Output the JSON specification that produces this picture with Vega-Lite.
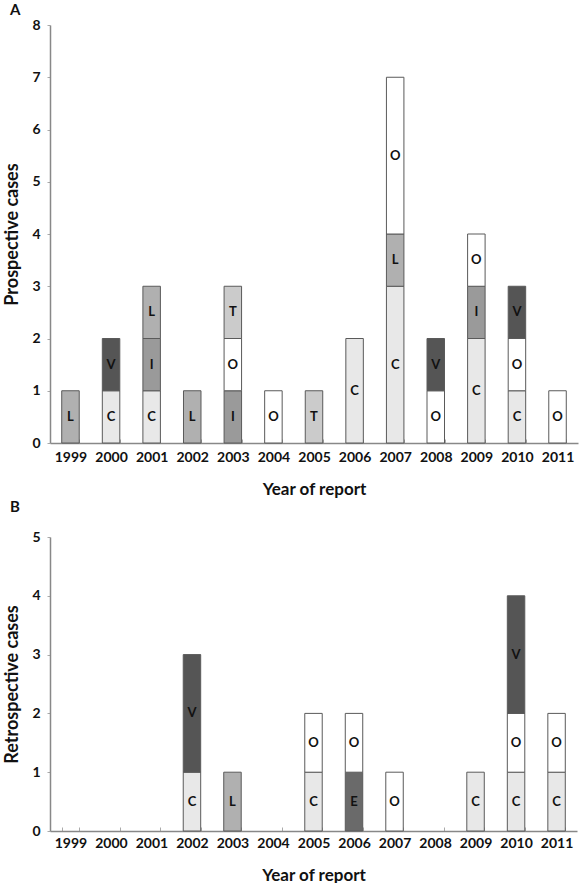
{
  "$schema": "https://vega.github.io/schema/vega-lite/v6.json",
  "padding": {"left": 3, "top": 3, "right": 4, "bottom": 0},
  "spacing": 3,
  "background": "white",
  "config": {
    "view": {"stroke": null},
    "font": "Lato",
    "axis": {
      "labelFont": "Lato", "labelFontWeight": "bold", "labelFontSize": 14, "labelColor": "#111",
      "titleFont": "Lato", "titleFontWeight": "bold", "titleFontSize": 17, "titleColor": "#111",
      "domainColor": "#888", "domainWidth": 1.5, "tickColor": "#aaa", "grid": false
    },
    "title": {"font": "Lato", "fontWeight": "bold", "fontSize": 15, "anchor": "start", "frame": "bounds", "color": "#111", "dx": 6}
  },
  "datasets": {
    "prospective": [
      {"year": "1999", "cat": "L", "n": 1},
      {"year": "2000", "cat": "C", "n": 1}, {"year": "2000", "cat": "V", "n": 1},
      {"year": "2001", "cat": "C", "n": 1}, {"year": "2001", "cat": "I", "n": 1}, {"year": "2001", "cat": "L", "n": 1},
      {"year": "2002", "cat": "L", "n": 1},
      {"year": "2003", "cat": "I", "n": 1}, {"year": "2003", "cat": "O", "n": 1}, {"year": "2003", "cat": "T", "n": 1},
      {"year": "2004", "cat": "O", "n": 1},
      {"year": "2005", "cat": "T", "n": 1},
      {"year": "2006", "cat": "C", "n": 2},
      {"year": "2007", "cat": "C", "n": 3}, {"year": "2007", "cat": "L", "n": 1}, {"year": "2007", "cat": "O", "n": 3},
      {"year": "2008", "cat": "O", "n": 1}, {"year": "2008", "cat": "V", "n": 1},
      {"year": "2009", "cat": "C", "n": 2}, {"year": "2009", "cat": "I", "n": 1}, {"year": "2009", "cat": "O", "n": 1},
      {"year": "2010", "cat": "C", "n": 1}, {"year": "2010", "cat": "O", "n": 1}, {"year": "2010", "cat": "V", "n": 1},
      {"year": "2011", "cat": "O", "n": 1}
    ],
    "retrospective": [
      {"year": "2002", "cat": "C", "n": 1}, {"year": "2002", "cat": "V", "n": 2},
      {"year": "2003", "cat": "L", "n": 1},
      {"year": "2005", "cat": "C", "n": 1}, {"year": "2005", "cat": "O", "n": 1},
      {"year": "2006", "cat": "E", "n": 1}, {"year": "2006", "cat": "O", "n": 1},
      {"year": "2007", "cat": "O", "n": 1},
      {"year": "2009", "cat": "C", "n": 1},
      {"year": "2010", "cat": "C", "n": 1}, {"year": "2010", "cat": "O", "n": 1}, {"year": "2010", "cat": "V", "n": 2},
      {"year": "2011", "cat": "C", "n": 1}, {"year": "2011", "cat": "O", "n": 1}
    ]
  },
  "vconcat": [
    {
      "title": {"text": "A", "offset": 0},
      "width": 528,
      "height": 418,
      "data": {"name": "prospective"},
      "transform": [
        {"stack": "n", "groupby": ["year"], "sort": [{"field": "cat"}], "as": ["y0", "y1"]},
        {"calculate": "(datum.y0 + datum.y1) / 2", "as": "mid"}
      ],
      "encoding": {
        "x": {
          "field": "year", "type": "ordinal", "title": "Year of report",
          "scale": {"domain": ["1999","2000","2001","2002","2003","2004","2005","2006","2007","2008","2009","2010","2011"], "paddingInner": 0.569, "paddingOuter": 0.289},
          "axis": {"labelAngle": 0, "tickBand": "extent", "tickSize": -4, "labelPadding": 11, "titlePadding": 17}
        }
      },
      "layer": [
        {
          "mark": {"type": "bar", "stroke": "#5a5a5a", "strokeWidth": 1},
          "encoding": {
            "y": {"field": "y0", "type": "quantitative", "title": "Prospective cases", "scale": {"domain": [0, 8]},
                  "axis": {"values": [0,1,2,3,4,5,6,7,8], "format": "d", "tickSize": 3, "labelPadding": 7, "titlePadding": 10, "titleFontSize": 18}},
            "y2": {"field": "y1"},
            "fill": {"field": "cat", "type": "nominal", "legend": null,
                     "scale": {"domain": ["C","E","I","L","O","T","V"], "range": ["#e8e8e8","#6a6a6a","#9a9a9a","#b0b0b0","#ffffff","#cbcbcb","#555555"]}}
          }
        },
        {
          "mark": {"type": "text", "font": "Lato", "fontWeight": "bold", "fontSize": 13, "color": "#111", "baseline": "middle"},
          "encoding": {
            "y": {"field": "mid", "type": "quantitative"},
            "text": {"field": "cat"}
          }
        }
      ]
    },
    {
      "title": {"text": "B", "offset": 15},
      "width": 527,
      "height": 294,
      "data": {"name": "retrospective"},
      "transform": [
        {"stack": "n", "groupby": ["year"], "sort": [{"field": "cat"}], "as": ["y0", "y1"]},
        {"calculate": "(datum.y0 + datum.y1) / 2", "as": "mid"}
      ],
      "encoding": {
        "x": {
          "field": "year", "type": "ordinal", "title": "Year of report",
          "scale": {"domain": ["1999","2000","2001","2002","2003","2004","2005","2006","2007","2008","2009","2010","2011"], "paddingInner": 0.569, "paddingOuter": 0.289},
          "axis": {"labelAngle": 0, "tickBand": "extent", "tickSize": -4, "labelPadding": 9, "titlePadding": 17}
        }
      },
      "layer": [
        {
          "mark": {"type": "bar", "stroke": "#5a5a5a", "strokeWidth": 1},
          "encoding": {
            "y": {"field": "y0", "type": "quantitative", "title": "Retrospective cases", "scale": {"domain": [0, 5]},
                  "axis": {"values": [0,1,2,3,4,5], "format": "d", "tickSize": 3, "labelPadding": 7, "titlePadding": 10, "titleFontSize": 18}},
            "y2": {"field": "y1"},
            "fill": {"field": "cat", "type": "nominal", "legend": null,
                     "scale": {"domain": ["C","E","I","L","O","T","V"], "range": ["#e8e8e8","#6a6a6a","#9a9a9a","#b0b0b0","#ffffff","#cbcbcb","#555555"]}}
          }
        },
        {
          "mark": {"type": "text", "font": "Lato", "fontWeight": "bold", "fontSize": 13, "color": "#111", "baseline": "middle"},
          "encoding": {
            "y": {"field": "mid", "type": "quantitative"},
            "text": {"field": "cat"}
          }
        }
      ]
    }
  ]
}
